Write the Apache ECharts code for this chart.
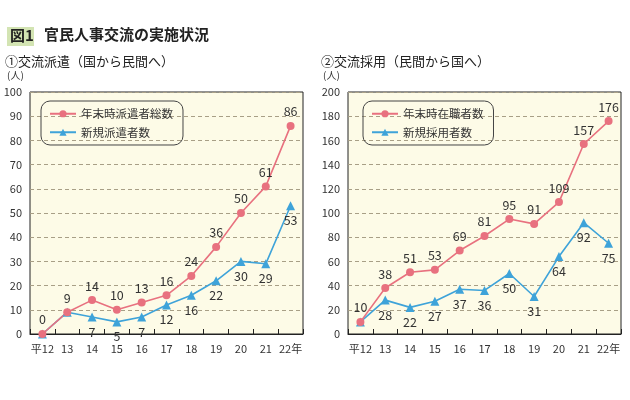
<!DOCTYPE html>
<html><head><meta charset="utf-8">
<script src="https://cdn.jsdelivr.net/npm/echarts@6/dist/echarts.min.js"></script>
<style>html,body{margin:0;padding:0;background:#fff}#c{width:630px;height:400px}</style>
</head><body><div id="c"></div>
<script>
const categories = ['平12','13','14','15','16','17','18','19','20','21','22年'];
const dispatchTotal = [0,9,14,10,13,16,24,36,50,61,86];
const dispatchNew = [0,9,7,5,7,12,16,22,30,29,53];
const dispatchNewLabelShow = [false,false,true,true,true,true,true,true,true,true,true];
const hireTotal = [10,38,51,53,69,81,95,91,109,157,176];
const hireNew = [10,28,22,27,37,36,50,31,64,92,75];
const hireNewLabelShow = [false,true,true,true,true,true,true,true,true,true,true];
const leftTicks = {min:0,max:100,interval:10};
const rightTicks = {min:0,max:200,interval:20};

const PINK = '#e8717f', BLUE = '#3ea3d9';
const FONT = '"Noto Sans CJK JP", sans-serif';
const chart = echarts.init(document.getElementById('c'));

function xAxis(gi){
  return {type:'category',gridIndex:gi,data:categories,boundaryGap:true,
    axisLine:{lineStyle:{color:'#222',width:1}},
    axisTick:{show:true,inside:true,length:5,lineStyle:{color:'#222'}},
    axisLabel:{color:'#333',fontSize:11,fontFamily:FONT,margin:9,interval:0}};
}
function yAxis(gi,t){
  return {type:'value',gridIndex:gi,min:t.min,max:t.max,interval:t.interval,
    axisLine:{show:false},axisTick:{show:false},
    axisLabel:{color:'#333',fontSize:11,fontFamily:FONT,margin:8},
    splitLine:{show:true,lineStyle:{color:'#a89f86',type:[4,3],width:1}}};
}
function mk(vals,shows){
  return vals.map((v,i)=> shows ? {value:v,label:{show:shows[i]}} : v);
}
function series(name,vals,gi,color,symbol,size,pos,shows){
  return {type:'line',name,xAxisIndex:gi,yAxisIndex:gi,data:mk(vals,shows),
    symbol,symbolSize:size,showSymbol:true,
    lineStyle:{color,width:1.6},itemStyle:{color},
    label:{show:true,position:pos,color:'#333',fontSize:12.5,fontFamily:FONT,distance:4},
    animation:false};
}
function legend(left,names){
  return {left,top:101,orient:'vertical',data:names,itemWidth:26,itemHeight:9,itemGap:7,
    padding:[7,10,7,8],borderColor:'#444',borderWidth:1,borderRadius:9,
    textStyle:{color:'#333',fontSize:11.5,fontFamily:FONT}};
}

chart.setOption({
  animation:false,
  grid:[
    {left:30,right:327,top:92,bottom:66,show:true,backgroundColor:'#fdfbe7',borderColor:'#222',borderWidth:1},
    {left:348,right:9,top:92,bottom:66,show:true,backgroundColor:'#fdfbe7',borderColor:'#222',borderWidth:1}
  ],
  xAxis:[xAxis(0),xAxis(1)],
  yAxis:[yAxis(0,leftTicks),yAxis(1,rightTicks)],
  legend:[legend(41,['年末時派遣者総数','新規派遣者数']),legend(363,['年末時在職者数','新規採用者数'])],
  series:[
    series('新規派遣者数',dispatchNew,0,BLUE,'triangle',9,'bottom',dispatchNewLabelShow),
    series('年末時派遣者総数',dispatchTotal,0,PINK,'circle',8,'top',null),
    series('新規採用者数',hireNew,1,BLUE,'triangle',9,'bottom',hireNewLabelShow),
    series('年末時在職者数',hireTotal,1,PINK,'circle',8,'top',null)
  ],
  graphic:[
    {type:'rect',left:7,top:27,shape:{width:27,height:19},style:{fill:'#d3e4b3'}},
    {type:'text',left:10,top:28,style:{text:'図1',fontSize:15,fontWeight:'bold',fill:'#222',fontFamily:FONT}},
    {type:'text',left:44,top:27,style:{text:'官民人事交流の実施状況',fontSize:15,fontWeight:'bold',fill:'#222',fontFamily:FONT}},
    {type:'text',left:5,top:55,style:{text:'①交流派遣（国から民間へ）',fontSize:13,fill:'#222',fontFamily:FONT}},
    {type:'text',left:7,top:70,style:{text:'(人)',fontSize:10,fill:'#333',fontFamily:FONT}},
    {type:'text',left:321,top:55,style:{text:'②交流採用（民間から国へ）',fontSize:13,fill:'#222',fontFamily:FONT}},
    {type:'text',left:323,top:70,style:{text:'(人)',fontSize:10,fill:'#333',fontFamily:FONT}}
  ]
});
</script></body></html>
